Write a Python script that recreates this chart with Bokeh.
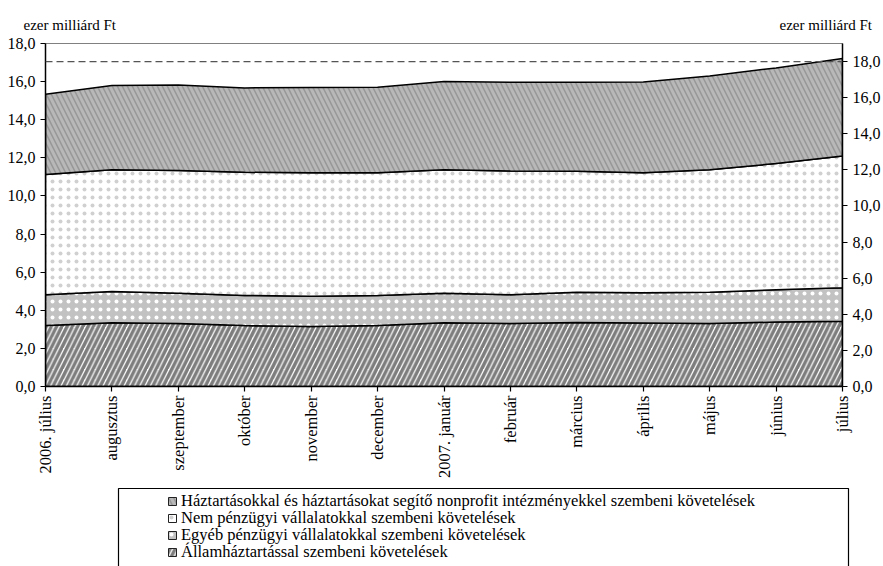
import math
from bokeh.plotting import figure
from bokeh.layouts import column
from bokeh.models import (Range1d, LinearAxis, FixedTicker, Span, Label, Legend,
                          LegendItem)
from bokeh.embed import file_html
from bokeh.resources import INLINE

# ---------------- data (ezer milliárd Ft) ----------------
honapok = ["2006. július", "augusztus", "szeptember", "október", "november",
           "december", "2007. január", "február", "március", "április",
           "május", "június", "július"]
allamhaztartas = [3.20, 3.35, 3.30, 3.20, 3.15, 3.20, 3.35, 3.30, 3.36, 3.33, 3.30, 3.38, 3.43]
egyeb_penzugyi = [1.62, 1.64, 1.60, 1.58, 1.59, 1.58, 1.55, 1.52, 1.58, 1.59, 1.65, 1.70, 1.75]
nem_penzugyi = [6.30, 6.39, 6.44, 6.46, 6.48, 6.44, 6.48, 6.49, 6.35, 6.30, 6.43, 6.62, 6.92]
haztartasok = [4.22, 4.41, 4.48, 4.43, 4.47, 4.48, 4.62, 4.66, 4.68, 4.76, 4.92, 5.02, 5.11]
kuszob_jobb = 18.0  # dashed reference level, right axis
y_ticks = [0, 2, 4, 6, 8, 10, 12, 14, 16, 18]
y_tick_labels = ["0,0", "2,0", "4,0", "6,0", "8,0", "10,0", "12,0", "14,0", "16,0", "18,0"]
sorozat_nevek = ["Háztartásokkal és háztartásokat segítő nonprofit intézményekkel szembeni követelések",
                 "Nem pénzügyi vállalatokkal szembeni követelések",
                 "Egyéb pénzügyi vállalatokkal szembeni követelések",
                 "Államháztartással szembeni követelések"]
egyseg = "ezer milliárd Ft"

FONT = "Liberation Serif"
W = 883

# layer styles
STYLES = {
    "allam": dict(fill_color="white", hatch_pattern="/", hatch_color="#7d7d7d",
                  hatch_weight=3.5, hatch_scale=10.5),
    "egyeb": dict(fill_color="#c2c2c2", hatch_pattern=".", hatch_color="white",
                  hatch_weight=2.2, hatch_scale=8),
    "nem": dict(fill_color="white", hatch_pattern=".", hatch_color="#d0d0d0",
                hatch_weight=1.0, hatch_scale=8),
    "haz": dict(fill_color="#979797", hatch_pattern="\\", hatch_color="#b8b8b8",
                hatch_weight=3, hatch_scale=10),
}


def bare_figure(height):
    f = figure(width=W, height=height, output_backend="svg", toolbar_location=None,
               x_range=Range1d(0, W), y_range=Range1d(0, height),
               x_axis_type=None, y_axis_type=None,
               min_border_left=0, min_border_right=0, min_border_top=0,
               min_border_bottom=0, frame_align=False)
    f.grid.visible = False
    f.outline_line_color = None
    return f


# ---------------- top strip with unit labels ----------------
TH = 33
top = bare_figure(TH)
for lx in (23, 779):
    top.add_layout(Label(x=lx, y=9, x_units="screen", y_units="screen", text=egyseg,
                         text_font=FONT, text_font_size="15px", text_color="black",
                         text_baseline="alphabetic"))

# ---------------- main chart ----------------
x = list(range(len(honapok)))
p = figure(width=W, height=453, output_backend="svg", toolbar_location=None,
           x_range=Range1d(0, len(honapok) - 1), y_range=Range1d(0, 18),
           min_border_left=45, min_border_right=40, min_border_top=10,
           min_border_bottom=100, frame_align=False)
p.extra_y_ranges = {"right": Range1d(0, 19.0)}
p.xgrid.visible = False
p.ygrid.visible = False
p.outline_line_color = "#808080"
p.outline_line_width = 1


def cum(*arrs):
    return [sum(v) for v in zip(*arrs)]


top1 = cum(allamhaztartas)
top2 = cum(allamhaztartas, egyeb_penzugyi)
top3 = cum(allamhaztartas, egyeb_penzugyi, nem_penzugyi)
top4 = cum(allamhaztartas, egyeb_penzugyi, nem_penzugyi, haztartasok)
zero = [0.0] * len(x)
polys = {
    "allam": (x + x[::-1], top1 + zero[::-1]),
    "egyeb": (x + x[::-1], top2 + top1[::-1]),
    "nem": (x + x[::-1], top3 + top2[::-1]),
    "haz": (x + x[::-1], top4 + top3[::-1]),
}

for k in ("allam", "egyeb", "nem", "haz"):
    xs, ys = polys[k]
    p.patch(xs, ys, line_color="black", line_width=1.5, **STYLES[k])

p.add_layout(Span(location=kuszob_jobb, dimension="width", y_range_name="right",
                  line_color="#555555", line_width=1.3, line_dash="7 4"))


def style_axis(ax, size):
    ax.axis_line_color = "black"
    ax.axis_line_width = 1.5
    ax.major_tick_line_color = "black"
    ax.major_tick_line_width = 1.2
    ax.major_tick_out = 5
    ax.major_tick_in = 0
    ax.minor_tick_line_color = None
    ax.major_label_text_font = FONT
    ax.major_label_text_font_size = size
    ax.major_label_text_color = "black"


xa = p.xaxis[0]
xa.ticker = FixedTicker(ticks=x)
xa.major_label_overrides = {i: h for i, h in enumerate(honapok)}
xa.major_label_orientation = math.pi / 2
style_axis(xa, "16.5px")
xa.major_label_standoff = 4

ya = p.yaxis[0]
ya.ticker = FixedTicker(ticks=y_ticks)
ya.major_label_overrides = {t: l for t, l in zip(y_ticks, y_tick_labels)}
style_axis(ya, "16px")
ya.major_label_standoff = 5

yr = LinearAxis(y_range_name="right")
yr.ticker = FixedTicker(ticks=y_ticks)
yr.major_label_overrides = {t: l for t, l in zip(y_ticks, y_tick_labels)}
style_axis(yr, "16px")
yr.major_label_standoff = 5
p.add_layout(yr, "right")

# ---------------- legend strip ----------------
LH = 80
leg = bare_figure(LH)
# legend frame (its bottom edge lies below the visible window)
leg.quad(left=[118], right=[848], top=[LH - 2], bottom=[-20], fill_color="white",
         line_color="black", line_width=1.2)

keys = ["haz", "nem", "egyeb", "allam"]
ITEM_H = 17
for i, (k, name) in enumerate(zip(keys, sorozat_nevek)):
    xs, ys = polys[k]
    r = leg.patch(xs, ys, line_color="#222222", line_width=1, visible=False, **STYLES[k])
    centre_from_top = 16 + 17 * i
    lg = Legend(items=[LegendItem(label=name, renderers=[r])],
                location=(167, LH - centre_from_top - ITEM_H / 2),
                orientation="vertical", padding=0, spacing=0, margin=0,
                glyph_width=10, glyph_height=10, label_standoff=4,
                label_height=ITEM_H, label_text_font=FONT, label_text_font_size="16.5px",
                label_text_color="black", background_fill_alpha=0,
                border_line_alpha=0)
    leg.add_layout(lg, "center")

layout = column(top, p, leg, spacing=0)
open("out.html", "w").write(file_html(layout, INLINE))
